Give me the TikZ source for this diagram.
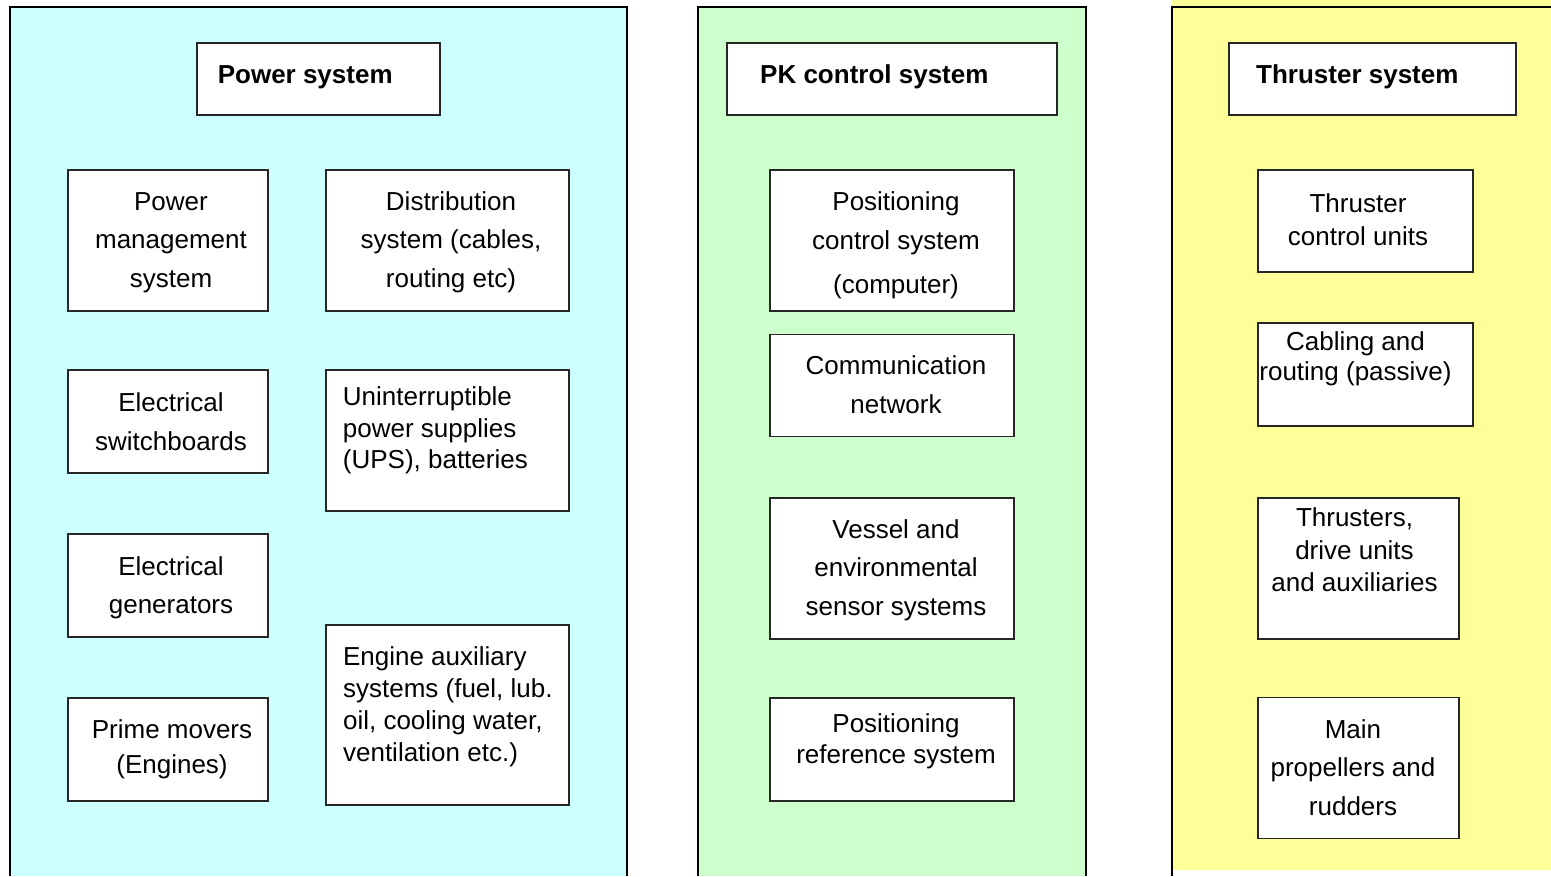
\documentclass[tikz,border=0pt]{standalone}
\usepackage{fontspec}
\setmainfont{Liberation Sans}
\definecolor{powercyan}{HTML}{CCFFFF}
\definecolor{pkgreen}{HTML}{CCFFCC}
\definecolor{thryellow}{HTML}{FFFF99}

\tikzset{
  blk/.style={draw=black!85, fill=white, line width=1.3pt, inner sep=0pt},
  txt/.style={align=center, inner sep=0pt, anchor=base, font=\fontsize{26}{31.5}\selectfont},
  lefttxt/.style={txt, align=left, anchor=base west},
  wide/.style={font=\fontsize{26}{38.5}\selectfont},
  ttl/.style={inner sep=0pt, anchor=base west, font=\bfseries\fontsize{26}{31.5}\selectfont},
}

\begin{document}
\begin{tikzpicture}[x=1pt, y=-1pt]
        \useasboundingbox (0,0) rectangle (1551,876);

        % panels
        \fill[powercyan] (10,7) rectangle (627,876);
        \draw[line width=1.5pt] (10,876) -- (10,7) -- (627,7) -- (627,876);
        \fill[pkgreen] (698,7) rectangle (1086,876);
        \draw[line width=1.5pt] (698,876) -- (698,7) -- (1086,7) -- (1086,876);
        \fill[thryellow] (1172,0) rectangle (1551,870);
        \draw[line width=1.5pt] (1172,876) -- (1172,7) -- (1551,7);

        % power system (text nodes sit on the baseline of their last line)
        \node[blk, minimum width=243, minimum height=72] (pst) at (318.5,79) {};
        \node[ttl] (pstT) at (217.6,83) {Power system};
        \node[blk, minimum width=200, minimum height=141] (pms) at (168,240.5) {};
        \node[txt, wide] (pmsT) at (171,287) {Power\\management\\system};
        \node[blk, minimum width=243, minimum height=141] (dist) at (447.5,240.5) {};
        \node[txt, wide] (distT) at (451,287) {Distribution\\system (cables,\\routing etc)};
        \node[blk, minimum width=200, minimum height=103] (swb) at (168,421.5) {};
        \node[txt, wide] (swbT) at (171,450) {Electrical\\switchboards};
        \node[blk, minimum width=243, minimum height=141] (ups) at (447.5,440.5) {};
        \node[lefttxt] (upsT) at (342.7,468.5) {Uninterruptible\\power supplies\\(UPS), batteries};
        \node[blk, minimum width=200, minimum height=103] (gen) at (168,585.5) {};
        \node[txt, wide] (genT) at (171,613.5) {Electrical\\generators};
        \node[blk, minimum width=200, minimum height=103] (prm) at (168,749.5) {};
        \node[txt, font=\fontsize{26}{35}\selectfont] (prmT) at (172,773.3) {Prime movers\\(Engines)};
        \node[blk, minimum width=243, minimum height=180] (eng) at (447.5,715) {};
        \node[lefttxt, font=\fontsize{26}{31.8}\selectfont] (engT) at (342.9,761) {Engine auxiliary\\systems (fuel, lub.\\oil, cooling water,\\ventilation etc.)};

        % PK control system
        \node[blk, minimum width=330, minimum height=72] (pkt) at (892,79) {};
        \node[ttl] (pktT) at (760,83) {PK control system};
        \node[blk, minimum width=244, minimum height=141] (pcs) at (892,240.5) {};
        \node[txt, wide] (pcsT) at (896,293.3) {Positioning\\control system\\[5.5pt](computer)};
        \node[blk, minimum width=244, minimum height=102] (com) at (892,385.5) {};
        \node[txt, wide] (comT) at (896,413.3) {Communication\\network};
        \node[blk, minimum width=244, minimum height=141] (ves) at (892,568.5) {};
        \node[txt, wide] (vesT) at (896,615) {Vessel and\\environmental\\sensor systems};
        \node[blk, minimum width=244, minimum height=103] (prs) at (892,749.5) {};
        \node[txt] (prsT) at (896,763.5) {Positioning\\reference system};

        % thruster system
        \node[blk, minimum width=287, minimum height=72] (tst) at (1372.5,79) {};
        \node[ttl] (tstT) at (1256,83) {Thruster system};
        \node[blk, minimum width=215, minimum height=102] (tcu) at (1365.5,221) {};
        \node[txt, font=\fontsize{26}{32.7}\selectfont] (tcuT) at (1358,245) {Thruster\\control units};
        \node[blk, minimum width=215, minimum height=103] (cab) at (1365.5,374.5) {};
        \node[txt, font=\fontsize{26}{30.7}\selectfont] (cabT) at (1355.5,380.7) {Cabling and\\routing (passive)};
        \node[blk, minimum width=201, minimum height=141] (thr) at (1358.5,568.5) {};
        \node[txt, font=\fontsize{26}{32.5}\selectfont] (thrT) at (1354.5,591.7) {Thrusters,\\drive units\\and auxiliaries};
        \node[blk, minimum width=201, minimum height=141] (mpr) at (1358.5,768) {};
        \node[txt, wide] (mprT) at (1353,815) {Main\\propellers and\\rudders};

    \end{tikzpicture}
\end{document}
